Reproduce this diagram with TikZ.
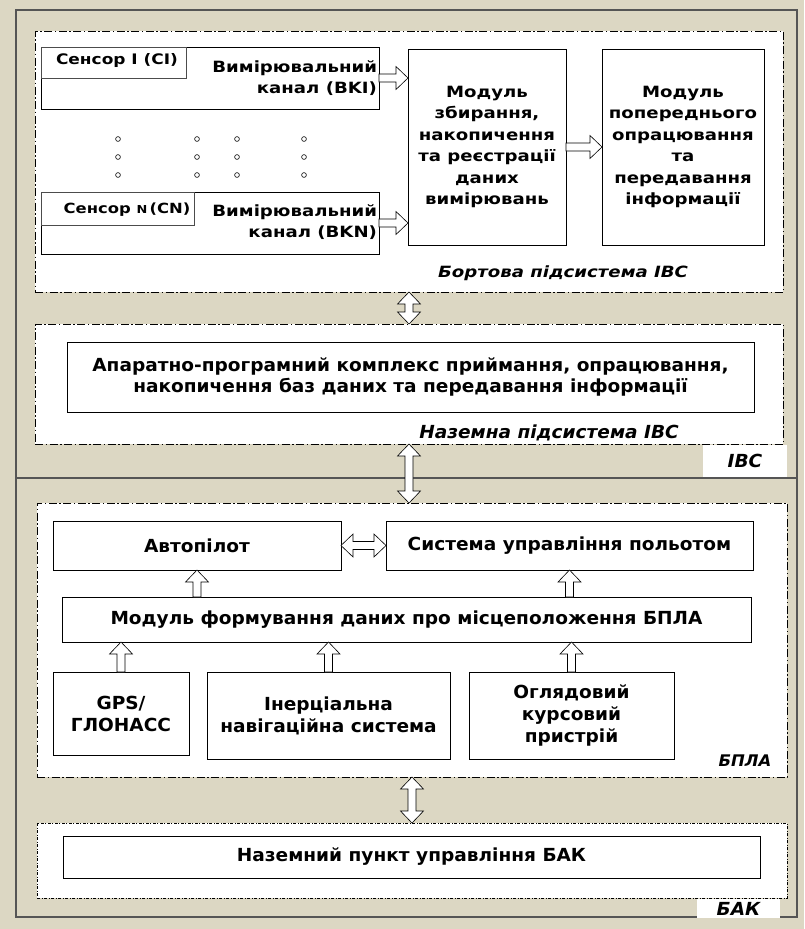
\documentclass[tikz,border=0pt]{standalone}
\usepackage{fontspec}
\setmainfont{DejaVu Sans}
\newfontfamily\topf[FakeStretch=1.17]{DejaVu Sans}
\newfontfamily\botf[FakeStretch=1.03]{DejaVu Sans}
\usetikzlibrary{calc}
\definecolor{beige}{RGB}{220,215,195}
\definecolor{framec}{RGB}{85,85,85}
\tikzset{
  every node/.style={inner sep=0pt, outer sep=0pt},
  box/.style={draw=black, line width=1pt, fill=white, rectangle},
  smallbox/.style={draw=black!70, line width=0.7pt, fill=white, rectangle},
  ddbox/.style={draw=black, line width=0.8pt, fill=white, rectangle, dash pattern=on 8pt off 2.5pt on 1.5pt off 2.5pt},
  dotbox/.style={draw=black, line width=0.7pt, fill=white, rectangle, dash pattern=on 3pt off 1.5pt on 1pt off 1.5pt},
  outer/.style={draw=framec, line width=1.6pt, rectangle},
  tfont/.style={font=\topf\bfseries\fontsize{15.5}{21.5}\selectfont, align=center},
  sfont/.style={font=\topf\bfseries\fontsize{14.5}{16}\selectfont},
  bfont/.style={font=\botf\bfseries\fontsize{18}{22}\selectfont, align=center},
  lbl/.style={fill=white, rectangle},
  blk/.style={draw=black, fill=white, line width=0.6pt, line join=miter},
  sarr/.style={blk, to path={let \p1=(\tikztostart), \p2=(\tikztotarget),
     \n1={veclen(\x2-\x1,\y2-\y1)}, \n2={atan2(\y2-\y1,\x2-\x1)} in
     ([shift={(\p1)},rotate=\n2]0pt,4pt)
     -- ([shift={(\p1)},rotate=\n2]{\n1-12pt},4pt)
     -- ([shift={(\p1)},rotate=\n2]{\n1-12pt},11.5pt)
     -- ([shift={(\p1)},rotate=\n2]{\n1},0pt)
     -- ([shift={(\p1)},rotate=\n2]{\n1-12pt},-11.5pt)
     -- ([shift={(\p1)},rotate=\n2]{\n1-12pt},-4pt)
     -- ([shift={(\p1)},rotate=\n2]0pt,-4pt) -- cycle}},
  darr/.style={blk, to path={let \p1=(\tikztostart), \p2=(\tikztotarget),
     \n1={veclen(\x2-\x1,\y2-\y1)}, \n2={atan2(\y2-\y1,\x2-\x1)} in
     ([shift={(\p1)},rotate=\n2]0pt,0pt)
     -- ([shift={(\p1)},rotate=\n2]12pt,11.5pt)
     -- ([shift={(\p1)},rotate=\n2]12pt,4pt)
     -- ([shift={(\p1)},rotate=\n2]{\n1-12pt},4pt)
     -- ([shift={(\p1)},rotate=\n2]{\n1-12pt},11.5pt)
     -- ([shift={(\p1)},rotate=\n2]{\n1},0pt)
     -- ([shift={(\p1)},rotate=\n2]{\n1-12pt},-11.5pt)
     -- ([shift={(\p1)},rotate=\n2]{\n1-12pt},-4pt)
     -- ([shift={(\p1)},rotate=\n2]12pt,-4pt)
     -- ([shift={(\p1)},rotate=\n2]12pt,-11.5pt) -- cycle}},
}
\begin{document}
\begin{tikzpicture}[x=1pt,y=-1pt]
\useasboundingbox (0,0) rectangle (804,929);
\fill[beige] (0,0) rectangle (804,929);

% outer frames
\node[outer, minimum width=781pt, minimum height=468pt] (ibc) at (406.5,244) {};
\node[outer, minimum width=781pt, minimum height=439pt] (bakout) at (406.5,697.5) {};

% dash-dot subsystem boxes
\node[ddbox, minimum width=748pt, minimum height=261pt] (bort) at (409,161.5) {};
\node[ddbox, minimum width=748pt, minimum height=120pt] (naz) at (409,384) {};
\node[ddbox, minimum width=750pt, minimum height=274pt] (bpla) at (412,640) {};
\node[dotbox, minimum width=750pt, minimum height=75pt] (bak) at (412,860.5) {};

% labels of frames
\node[lbl, minimum width=84pt, minimum height=32pt, font=\botf\bfseries\itshape\fontsize{18}{20}\selectfont] (ibcl) at (745,461) {IBC};
\node[lbl, minimum width=83pt, minimum height=19pt, font=\botf\bfseries\itshape\fontsize{18}{20}\selectfont] (bakl) at (738.5,908.5) {БАК};

% on-board subsystem
\node[box, minimum width=338pt, minimum height=62pt] (s1) at (210,78) {};
\node[smallbox, minimum width=145pt, minimum height=31pt] (s1s) at (113.5,62.5) {};
\node[sfont] (s1st) at (117,61) {Сенсор I (CI)};
\node[tfont, align=right, anchor=east] (s1t) at (377,78) {Вимірювальний\\канал (BKI)};

\node[box, minimum width=338pt, minimum height=62pt] (sN) at (210,223) {};
\node[smallbox, minimum width=153pt, minimum height=33pt] (sNs) at (117.5,208.5) {};
\node[font=\topf\bfseries\fontsize{14}{16}\selectfont] (sNst) at (127,210) {Сенсор {\fontsize{11}{12}\selectfont N}\,(CN)};
\node[tfont, align=right, anchor=east] (sNt) at (377,222) {Вимірювальний\\канал (BKN)};

\foreach \x in {118,197,237,304} \foreach \y in {139,157,175}
  \draw[line width=0.6pt] (\x,\y) circle[radius=2.4pt];

\node[box, tfont, minimum width=158pt, minimum height=196pt] (mz) at (487,147)
  {Модуль\\збирання,\\накопичення\\та реєстрації\\даних\\вимірювань};
\node[box, tfont, minimum width=162pt, minimum height=196pt] (mp) at (683,147)
  {Модуль\\попереднього\\опрацювання\\та\\передавання\\інформації};
\node[font=\topf\bfseries\itshape\fontsize{15.5}{20}\selectfont] (bortl) at (563,273) {Бортова підсистема IBC};

% ground subsystem
\node[box, font=\botf\bfseries\fontsize{18}{21}\selectfont, align=center, minimum width=687pt, minimum height=70pt] (ap) at (410.5,377)
  {Апаратно-програмний комплекс приймання, опрацювання,\\накопичення баз даних та передавання інформації};
\node[font=\botf\bfseries\itshape\fontsize{18}{20}\selectfont] (nazl) at (549,433) {Наземна підсистема IBC};

% UAV
\node[box, bfont, minimum width=288pt, minimum height=49pt] (auto) at (197,545.5) {Автопілот};
\node[box, bfont, minimum width=367pt, minimum height=49pt] (sys) at (569.5,545.5) {Система управління польотом};
\node[box, bfont, minimum width=689pt, minimum height=45pt] (mf) at (406.5,619.5) {Модуль формування даних про місцеположення БПЛА};
\node[box, bfont, minimum width=136pt, minimum height=83pt] (gps) at (121,713.5) {GPS/\\ГЛОНАСС};
\node[box, bfont, minimum width=243pt, minimum height=87pt] (ins) at (328.5,715.5) {Інерціальна\\навігаційна система};
\node[box, bfont, minimum width=205pt, minimum height=87pt] (ogl) at (571.5,715.5) {Оглядовий\\курсовий\\пристрій};
\node[font=\botf\bfseries\itshape\fontsize{16}{20}\selectfont] (bplal) at (745,761) {БПЛА};

% ground control
\node[box, bfont, minimum width=697pt, minimum height=42pt] (npu) at (411.5,857) {Наземний пункт управління БАК};

% arrows
\draw[sarr] (s1.east) to (s1.east -| mz.west);
\draw[sarr] (sN.east) to (sN.east -| mz.west);
\draw[sarr] (mz.east) to (mp.west);
\draw[darr] (bort.south) to (naz.north);
\draw[darr] (naz.south) to (naz.south |- bpla.north);
\draw[darr] (bpla.south) to (bak.north);
\draw[darr] (auto.east) to (sys.west);
\draw[sarr] (auto.south |- mf.north) to (auto.south);
\draw[sarr] (sys.south |- mf.north) to (sys.south);
\draw[sarr] (gps.north) to (gps.north |- mf.south);
\draw[sarr] (ins.north) to (ins.north |- mf.south);
\draw[sarr] (ogl.north) to (ogl.north |- mf.south);
\end{tikzpicture}
\end{document}
